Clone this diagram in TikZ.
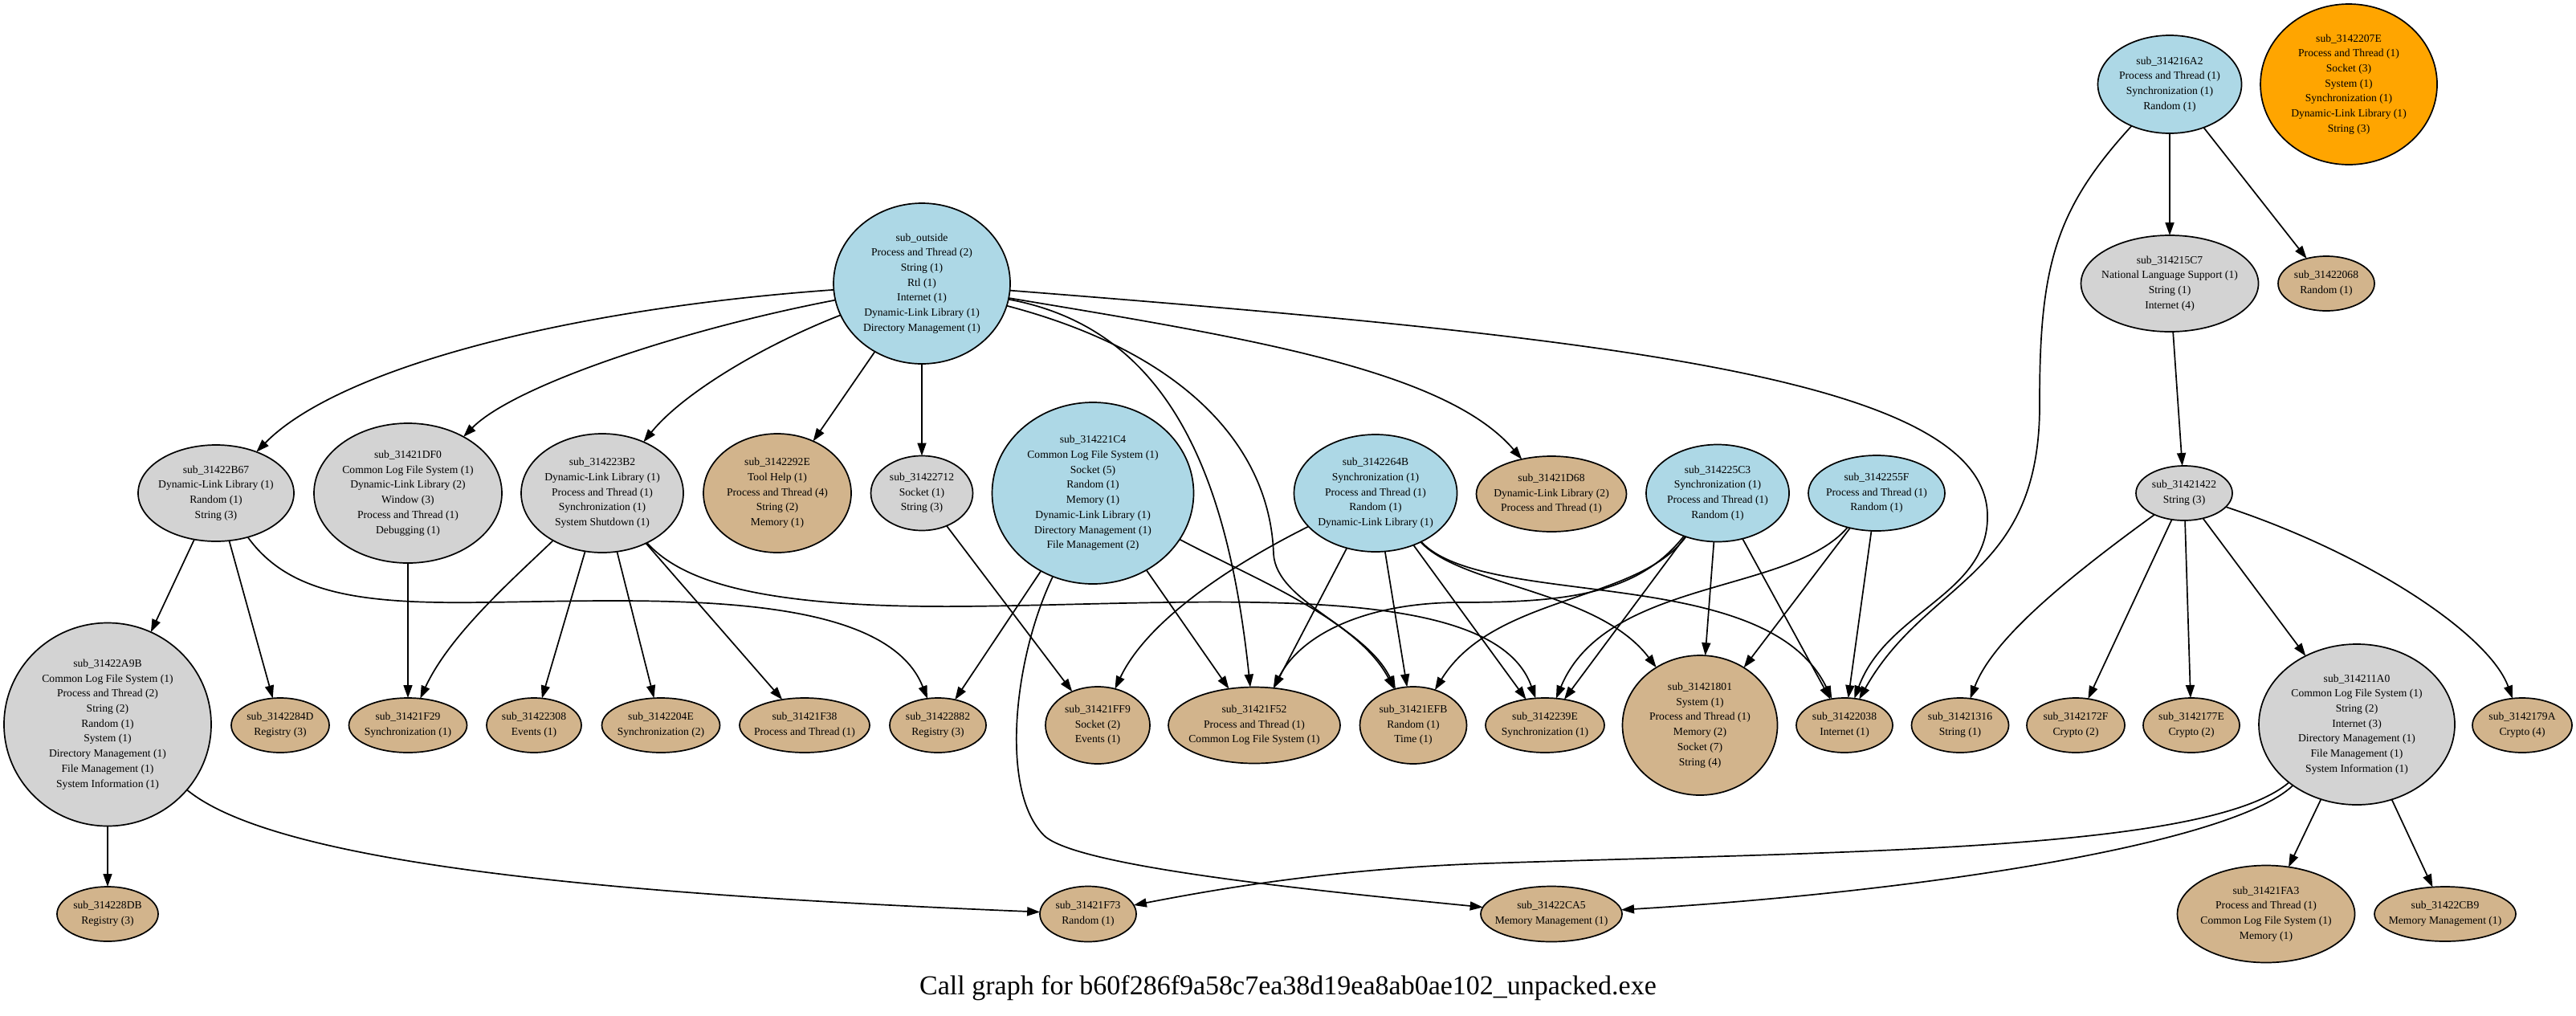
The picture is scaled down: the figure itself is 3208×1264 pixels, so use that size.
\documentclass[tikz,border=0pt]{standalone}
\usepackage{fontspec}
\setmainfont{Liberation Serif}
\usetikzlibrary{shapes.geometric,arrows.meta}
\definecolor{lb}{HTML}{ADD8E6}
\definecolor{lg}{HTML}{D3D3D3}
\definecolor{tn}{HTML}{D2B48C}
\definecolor{og}{HTML}{FFA500}
\newcommand\nf{\fontsize{13.6bp}{18.7bp}\selectfont}
\newcommand\capf{\fontsize{34bp}{40bp}\selectfont}
\tikzset{
  fnode/.style={ellipse, draw=black, line width=1.7bp, inner sep=0pt, outer sep=0pt},
  lbl/.style={align=center, font=\nf, inner sep=0pt},
  call/.style={-{Triangle[length=16bp,width=11bp]}, line width=1.7bp},
}
\newcommand\fn[7]{\node[fnode, fill=#6, minimum width=#4bp, minimum height=#5bp, label={[lbl]center:{#7}}] (#1) at (#2,#3) {};}
\begin{document}
\begin{tikzpicture}[x=1bp,y=-1bp]
\useasboundingbox (0,0) rectangle (3208,1264);
% row 0
\fn{out}{1148}{353}{220}{200}{lb}{sub\_outside\\Process and Thread (2)\\String (1)\\Rtl (1)\\Internet (1)\\Dynamic-Link Library (1)\\Directory Management (1)}
\fn{a2}{2702}{105}{179}{122}{lb}{sub\_314216A2\\Process and Thread (1)\\Synchronization (1)\\Random (1)}
\fn{e207}{2925}{105}{220}{200}{og}{sub\_3142207E\\Process and Thread (1)\\Socket (3)\\System (1)\\Synchronization (1)\\Dynamic-Link Library (1)\\String (3)}
\fn{c7}{2702}{353}{221}{120}{lg}{sub\_314215C7\\National Language Support (1)\\String (1)\\Internet (4)}
\fn{r068}{2897}{353}{120}{68}{tn}{sub\_31422068\\Random (1)}
% row 1
\fn{b67}{269}{614}{194}{120}{lg}{sub\_31422B67\\Dynamic-Link Library (1)\\Random (1)\\String (3)}
\fn{df0}{508}{614}{234}{174}{lg}{sub\_31421DF0\\Common Log File System (1)\\Dynamic-Link Library (2)\\Window (3)\\Process and Thread (1)\\Debugging (1)}
\fn{b2}{750}{614}{202}{148}{lg}{sub\_314223B2\\Dynamic-Link Library (1)\\Process and Thread (1)\\Synchronization (1)\\System Shutdown (1)}
\fn{e92}{968}{614}{184}{148}{tn}{sub\_3142292E\\Tool Help (1)\\Process and Thread (4)\\String (2)\\Memory (1)}
\fn{s712}{1148}{614}{127}{93}{lg}{sub\_31422712\\Socket (1)\\String (3)}
\fn{c4}{1361}{614}{251}{226}{lb}{sub\_314221C4\\Common Log File System (1)\\Socket (5)\\Random (1)\\Memory (1)\\Dynamic-Link Library (1)\\Directory Management (1)\\File Management (2)}
\fn{b64}{1713}{614}{203}{146}{lb}{sub\_3142264B\\Synchronization (1)\\Process and Thread (1)\\Random (1)\\Dynamic-Link Library (1)}
\fn{d68}{1932}{615}{187}{94}{tn}{sub\_31421D68\\Dynamic-Link Library (2)\\Process and Thread (1)}
\fn{c3}{2139}{614}{178}{121}{lb}{sub\_314225C3\\Synchronization (1)\\Process and Thread (1)\\Random (1)}
\fn{f5f}{2337}{614}{170}{94}{lb}{sub\_3142255F\\Process and Thread (1)\\Random (1)}
\fn{s422}{2720}{614}{120}{68}{lg}{sub\_31421422\\String (3)}
% row 2
\fn{a9b}{134}{902}{258}{253}{lg}{sub\_31422A9B\\Common Log File System (1)\\Process and Thread (2)\\String (2)\\Random (1)\\System (1)\\Directory Management (1)\\File Management (1)\\System Information (1)}
\fn{d84}{349}{903}{122}{68}{tn}{sub\_3142284D\\Registry (3)}
\fn{f29}{508}{903}{147}{68}{tn}{sub\_31421F29\\Synchronization (1)}
\fn{e308}{665}{903}{118}{68}{tn}{sub\_31422308\\Events (1)}
\fn{e04e}{823}{903}{147}{68}{tn}{sub\_3142204E\\Synchronization (2)}
\fn{f38}{1002}{903}{162}{68}{tn}{sub\_31421F38\\Process and Thread (1)}
\fn{r882}{1168}{903}{120}{68}{tn}{sub\_31422882\\Registry (3)}
\fn{ff9}{1367}{903}{130}{96}{tn}{sub\_31421FF9\\Socket (2)\\Events (1)}
\fn{f52}{1562}{903}{214}{95}{tn}{sub\_31421F52\\Process and Thread (1)\\Common Log File System (1)}
\fn{efb}{1760}{903}{133}{96}{tn}{sub\_31421EFB\\Random (1)\\Time (1)}
\fn{e39e}{1924}{903}{148}{68}{tn}{sub\_3142239E\\Synchronization (1)}
\fn{s801}{2117}{903}{193}{174}{tn}{sub\_31421801\\System (1)\\Process and Thread (1)\\Memory (2)\\Socket (7)\\String (4)}
\fn{c038}{2297}{903}{120}{68}{tn}{sub\_31422038\\Internet (1)}
\fn{s316}{2441}{903}{121}{68}{tn}{sub\_31421316\\String (1)}
\fn{f72f}{2585}{903}{122}{68}{tn}{sub\_3142172F\\Crypto (2)}
\fn{e77e}{2729}{903}{120}{68}{tn}{sub\_3142177E\\Crypto (2)}
\fn{a0}{2935}{902}{244}{200}{lg}{sub\_314211A0\\Common Log File System (1)\\String (2)\\Internet (3)\\Directory Management (1)\\File Management (1)\\System Information (1)}
\fn{a79a}{3141}{903}{124}{68}{tn}{sub\_3142179A\\Crypto (4)}
% row 3
\fn{db8}{134}{1138}{126}{68}{tn}{sub\_314228DB\\Registry (3)}
\fn{f73}{1355}{1138}{120}{69}{tn}{sub\_31421F73\\Random (1)}
\fn{ca5}{1932}{1138}{176}{69}{tn}{sub\_31422CA5\\Memory Management (1)}
\fn{fa3}{2822}{1138}{221}{121}{tn}{sub\_31421FA3\\Process and Thread (1)\\Common Log File System (1)\\Memory (1)}
\fn{cb9}{3045}{1138}{176}{68}{tn}{sub\_31422CB9\\Memory Management (1)}
% caption
\node[font=\capf, inner sep=0pt] (cap) at (1604,1230) {Call graph for b60f286f9a58c7ea38d19ea8ab0ae102\_unpacked.exe};
% edges from sub_outside
\draw[call] (out) .. controls (700,385) and (420,460) .. (b67);
\draw[call] (out) .. controls (850,410) and (640,480) .. (df0);
\draw[call] (out) .. controls (950,430) and (850,490) .. (b2);
\draw[call] (out) -- (e92);
\draw[call] (out) -- (s712);
\draw[call] (out) .. controls (1460,410) and (1530,600) .. (f52);
\draw[call] (out) .. controls (1480,440) and (1582,560) .. (1586,690) .. controls (1590,750) and (1700,780) .. (efb);
\draw[call] (out) .. controls (1550,420) and (1800,460) .. (d68);
\draw[call] (out) .. controls (2000,420) and (2470,470) .. (2475,640) .. controls (2478,740) and (2350,760) .. (c038);
% 216A2
\draw[call] (a2) .. controls (2560,260) and (2540,330) .. (2540,500) .. controls (2542,720) and (2400,720) .. (c038);
\draw[call] (a2) -- (c7);
\draw[call] (a2) -- (r068);
\draw[call] (c7) -- (s422);
% 31421422
\draw[call] (s422) .. controls (2560,730) and (2480,800) .. (s316);
\draw[call] (s422) -- (f72f);
\draw[call] (s422) -- (e77e);
\draw[call] (s422) -- (a0);
\draw[call] (s422) .. controls (2950,690) and (3100,790) .. (a79a);
% 314211A0
\draw[call] (a0) -- (fa3);
\draw[call] (a0) -- (cb9);
\draw[call] (a0) .. controls (2750,1060) and (2300,1060) .. (1850,1075) .. controls (1650,1082) and (1500,1110) .. (f73);
\draw[call] (a0) .. controls (2780,1050) and (2400,1110) .. (ca5);
% 31422A9B
\draw[call] (a9b) -- (db8);
\draw[call] (a9b) .. controls (350,1080) and (800,1115) .. (f73);
% 31422B67
\draw[call] (b67) -- (a9b);
\draw[call] (b67) -- (d84);
\draw[call] (b67) .. controls (360,740) and (450,752) .. (600,750) .. controls (800,748) and (1100,730) .. (r882);
% 31421DF0
\draw[call] (df0) -- (f29);
% 314223B2
\draw[call] (b2) .. controls (640,720) and (560,790) .. (f29);
\draw[call] (b2) -- (e308);
\draw[call] (b2) -- (e04e);
\draw[call] (b2) -- (f38);
\draw[call] (b2) .. controls (850,725) and (950,757) .. (1200,755) .. controls (1500,752) and (1860,720) .. (e39e);
% 31422712
\draw[call] (s712) -- (ff9);
% 314221C4
\draw[call] (c4) -- (r882);
\draw[call] (c4) .. controls (1262,820) and (1245,985) .. (1300,1040) .. controls (1340,1080) and (1650,1110) .. (ca5);
\draw[call] (c4) -- (f52);
\draw[call] (c4) .. controls (1560,720) and (1690,770) .. (efb);
% 3142264B
\draw[call] (b64) .. controls (1540,700) and (1430,770) .. (ff9);
\draw[call] (b64) -- (f52);
\draw[call] (b64) -- (efb);
\draw[call] (b64) -- (e39e);
\draw[call] (b64) .. controls (1820,730) and (1990,735) .. (s801);
\draw[call] (b64) .. controls (1850,760) and (2200,700) .. (c038);
% 314225C3
\draw[call] (c3) -- (e39e);
\draw[call] (c3) .. controls (2040,740) and (1950,750) .. (1820,750) .. controls (1700,750) and (1620,790) .. (f52);
\draw[call] (c3) .. controls (2040,750) and (1860,740) .. (efb);
\draw[call] (c3) -- (s801);
\draw[call] (c3) -- (c038);
% 3142255F
\draw[call] (f5f) -- (s801);
\draw[call] (f5f) -- (c038);
\draw[call] (f5f) .. controls (2230,740) and (2000,720) .. (e39e);
\end{tikzpicture}
\end{document}
